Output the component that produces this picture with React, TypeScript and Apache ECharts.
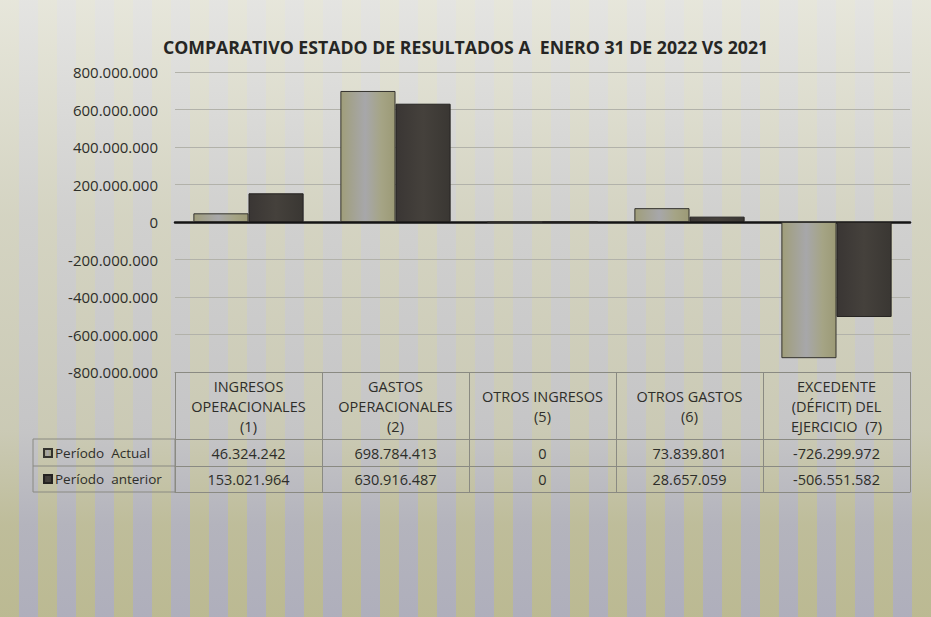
import React, { useEffect, useRef } from "react";
import * as echarts from "echarts";

const categories = [
  "INGRESOS\nOPERACIONALES\n(1)",
  "GASTOS\nOPERACIONALES\n(2)",
  "OTROS INGRESOS\n(5)",
  "OTROS GASTOS\n(6)",
  "EXCEDENTE\n(DÉFICIT) DEL\nEJERCICIO  (7)",
];
const seriesNames = ["Período  Actual", "Período  anterior"];
const actual = [46324242, 698784413, 0, 73839801, -726299972];
const previous = [153021964, 630916487, 0, 28657059, -506551582];
const yMin = -800000000;
const yMax = 800000000;
const yStep = 200000000;
const titleText = "COMPARATIVO ESTADO DE RESULTADOS A  ENERO 31 DE 2022 VS 2021";

const FONT = "'Open Sans', 'Noto Sans', sans-serif";
const TXT = "#2e2e2a";
const LINE = "#8a8a82";

function fmt(n: number): string {
  const s = String(Math.abs(Math.round(n))).replace(/\B(?=(\d{3})+(?!\d))/g, ".");
  return n < 0 ? "-" + s : s;
}

export default function App() {
  const ref = useRef<HTMLDivElement>(null);
  useEffect(() => {
    if (!ref.current) return;
    const chart = echarts.init(ref.current, undefined, { renderer: "svg" });
    const tableAxis = (
      offset: number,
      labels: string[] | null,
      margin: number,
      tick: boolean,
      fontSize: number,
      lineHeight: number
    ) => ({
      type: "category",
      data: categories,
      position: "bottom",
      offset,
      gridIndex: 0,
      axisLine: { show: true, onZero: false, lineStyle: { color: LINE, width: 1 } },
      axisTick: { show: tick, length: 120, lineStyle: { color: LINE, width: 1 } },
      axisLabel: labels
        ? {
            show: true,
            interval: 0,
            margin,
            verticalAlign: "middle",
            align: "center",
            lineHeight,
            fontSize,
            color: TXT,
            fontFamily: FONT,
            formatter: (_v: string, i: number) => labels[i],
          }
        : { show: false },
      splitLine: { show: false },
    });
    chart.setOption({
      animation: false,
      backgroundColor: "transparent",
      title: {
        text: titleText,
        left: "center",
        top: 33,
        textStyle: { fontFamily: FONT, fontSize: 17.7, fontWeight: "bold", color: "#262624" },
      },
      legend: {
        orient: "vertical",
        left: 38,
        top: 440,
        itemGap: 10,
        itemWidth: 8,
        itemHeight: 8,
        icon: "rect",
        data: seriesNames,
        textStyle: { fontFamily: FONT, fontSize: 13.5, color: TXT, lineHeight: 16, padding: [0, 0, 0, -2] },
      },
      grid: { left: 175, right: 21, top: 72, bottom: 245, containLabel: false },
      xAxis: [
        {
          type: "category",
          data: categories,
          axisLine: { show: true, onZero: true, lineStyle: { color: "#141414", width: 2.5 } },
          axisTick: { show: false },
          axisLabel: { show: false },
          splitLine: { show: false },
        },
        tableAxis(0, categories, 34, true, 14.5, 20),
        tableAxis(67, actual.map(fmt), 14, false, 14.5, 16),
        tableAxis(94, previous.map(fmt), 13, false, 14.5, 16),
        tableAxis(120, null, 0, false, 14, 16),
      ],
      yAxis: {
        type: "value",
        min: yMin,
        max: yMax,
        interval: yStep,
        axisLine: { show: false },
        axisTick: { show: false },
        axisLabel: {
          margin: 17,
          fontSize: 15,
          color: TXT,
          fontFamily: FONT,
          formatter: (v: number) => fmt(v),
        },
        splitLine: { lineStyle: { color: "#b2b2aa", width: 1 } },
      },
      series: [
        {
          name: seriesNames[0],
          type: "bar",
          xAxisIndex: 0,
          data: actual,
          barGap: "0%",
          barCategoryGap: "25%",
          itemStyle: {
            color: new echarts.graphic.LinearGradient(0, 0, 1, 0, [
              { offset: 0, color: "#a09e7a" },
              { offset: 0.45, color: "#a7a7aa" },
              { offset: 0.75, color: "#a5a485" },
              { offset: 1, color: "#9c9a76" },
            ]),
            borderColor: "#34332e",
            borderWidth: 1,
          },
        },
        {
          name: seriesNames[1],
          type: "bar",
          xAxisIndex: 0,
          data: previous,
          barGap: "0%",
          barCategoryGap: "25%",
          itemStyle: {
            color: new echarts.graphic.LinearGradient(0, 0, 1, 0, [
              { offset: 0, color: "#3a3634" },
              { offset: 0.5, color: "#45413c" },
              { offset: 1, color: "#3a3733" },
            ]),
            borderColor: "#242220",
            borderWidth: 1,
          },
        },
      ],
      graphic: [
        {
          type: "rect",
          shape: { x: 33, y: 439, width: 142, height: 53 },
          style: { fill: "none", stroke: LINE, lineWidth: 1 },
          silent: true,
        },
        {
          type: "line",
          shape: { x1: 33, y1: 466, x2: 175, y2: 466 },
          style: { stroke: LINE, lineWidth: 1 },
          silent: true,
        },
      ],
    });
    return () => chart.dispose();
  }, []);
  return (
    <div
      ref={ref}
      style={{
        position: "fixed",
        left: 0,
        top: 0,
        width: 931,
        height: 617,
        background:
          "linear-gradient(to bottom, rgba(238,238,232,0.85) 0%, rgba(222,222,214,0.72) 35%, rgba(212,212,204,0.62) 70%, rgba(200,200,188,0.25) 85%, rgba(190,190,175,0.1) 100%), repeating-linear-gradient(90deg, #bbb98f 0px, #bbb98f 19px, #adadbd 19px, #adadbd 38px)",
      }}
    />
  );
}
